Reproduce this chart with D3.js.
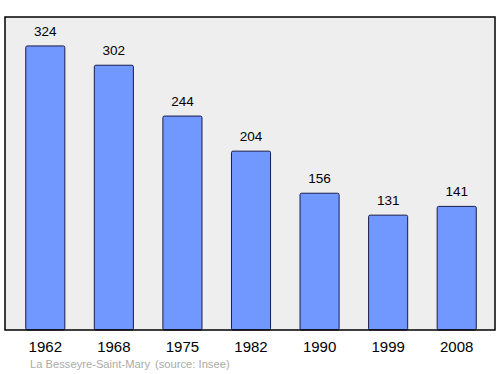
<!DOCTYPE html>
<html>
<head>
<meta charset="utf-8">
<script src="https://cdnjs.cloudflare.com/ajax/libs/d3/7.8.5/d3.min.js"></script>
<style>
body { margin: 0; background: #fff; }
text { font-family: "Liberation Sans", Arial, sans-serif; }
</style>
</head>
<body>
<div id="chart"></div>
<script>
var years = ["1962", "1968", "1975", "1982", "1990", "1999", "2008"];
var population = [324, 302, 244, 204, 156, 131, 141];
var commune = "La Besseyre-Saint-Mary";
var source = "(source: Insee)";

var W = 500, H = 374;
var frame = {l: 5, t: 17, r: 495, b: 330};

var svg = d3.select('#chart')
    .append('svg')
    .attr('width', W)
    .attr('height', H);

var scaleX = d3.scaleBand()
    .domain(years)
    .range([11, 491])
    .paddingInner(0.43)
    .paddingOuter(0.215);

var scaleY = d3.scaleLinear()
    .domain([0, 357])
    .range([frame.b, frame.t]);

// plot background
svg.append('rect')
    .attr('x', frame.l)
    .attr('y', frame.t)
    .attr('width', frame.r - frame.l)
    .attr('height', frame.b - frame.t)
    .attr('fill', '#eeeeee')
    .attr('stroke', 'none');

svg.selectAll('.bar')
    .data(population)
    .enter()
    .append('rect')
    .attr('class', 'bar')
    .attr('x', function(d, i){ return scaleX(years[i]); })
    .attr('y', function(d){ return scaleY(d); })
    .attr('width', scaleX.bandwidth())
    .attr('height', function(d){ return scaleY(0) - scaleY(d); })
    .attr('rx', 1.5)
    .attr('fill', '#7098ff')
    .attr('stroke', '#1a1a4d')
    .attr('stroke-width', 1);

svg.selectAll('.val')
    .data(population)
    .enter()
    .append('text')
    .attr('class', 'val')
    .attr('x', function(d, i){ return scaleX(years[i]) + scaleX.bandwidth() / 2; })
    .attr('y', function(d){ return scaleY(d) - 10; })
    .attr('text-anchor', 'middle')
    .attr('font-size', 13.5)
    .attr('fill', '#000')
    .text(function(d){ return d; });

// frame on top
svg.append('rect')
    .attr('x', frame.l)
    .attr('y', frame.t)
    .attr('width', frame.r - frame.l)
    .attr('height', frame.b - frame.t)
    .attr('fill', 'none')
    .attr('stroke', '#000')
    .attr('stroke-width', 1.5);

var xAxis = svg.append('g')
    .attr('transform', 'translate(0,' + frame.b + ')')
    .call(d3.axisBottom(scaleX).tickSize(0).tickPadding(11));
xAxis.select('.domain').remove();
xAxis.selectAll('text')
    .attr('font-size', 15)
    .attr('fill', '#000')
    .style('font-family', '"Liberation Sans", Arial, sans-serif');

svg.append('text')
    .attr('x', 30)
    .attr('y', 368)
    .attr('font-size', 11.2)
    .attr('fill', '#aaaaaa')
    .text(commune);

svg.append('text')
    .attr('x', 155)
    .attr('y', 368)
    .attr('font-size', 11.2)
    .attr('fill', '#aaaaaa')
    .text(source);
</script>
</body>
</html>
